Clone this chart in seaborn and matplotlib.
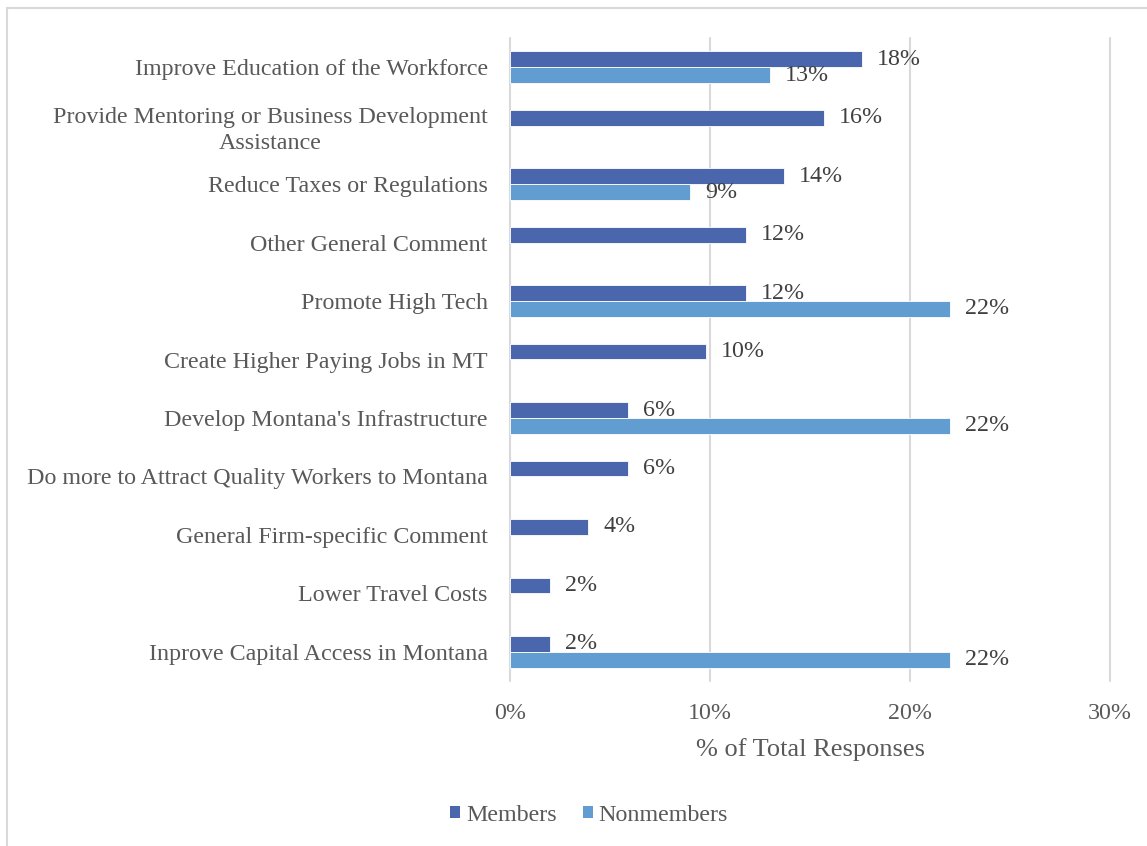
import matplotlib
matplotlib.use("Agg")
import matplotlib.pyplot as plt
import seaborn as sns
import pandas as pd
from matplotlib.patches import Rectangle, Patch

categories = [
    "Improve Education of the Workforce",
    "Provide Mentoring or Business Development\nAssistance",
    "Reduce Taxes or Regulations",
    "Other General Comment",
    "Promote High Tech",
    "Create Higher Paying Jobs in MT",
    "Develop Montana's Infrastructure",
    "Do more to Attract Quality Workers to Montana",
    "General Firm-specific Comment",
    "Lower Travel Costs",
    "Inprove Capital Access in Montana",
]
members = [17.6, 15.7, 13.7, 11.8, 11.8, 9.8, 5.9, 5.9, 3.9, 2.0, 2.0]
nonmembers = [13.0, 0, 9.0, 0, 22.0, 0, 22.0, 0, 0, 0, 22.0]
series = ["Members", "Nonmembers"]
colors = ["#4a66ac", "#629dd1"]
xticks = [0, 10, 20, 30]
xtick_labels = ["0%", "10%", "20%", "30%"]

df = pd.DataFrame({
    "Category": categories * 2,
    "Series": [series[0]] * len(categories) + [series[1]] * len(categories),
    "Value": members + nonmembers,
})

sns.set_theme(style="white")
plt.rcParams["font.family"] = ["Liberation Serif", "DejaVu Serif"]

fig = plt.figure(figsize=(11.47, 8.46), dpi=100)
ax = fig.add_axes([510 / 1147, 1 - 681 / 846, 600 / 1147, (681 - 38) / 846])

sns.barplot(data=df, y="Category", x="Value", hue="Series", order=categories,
            hue_order=series, palette=colors, width=0.54, orient="h",
            edgecolor="white", linewidth=0.6, saturation=1, ax=ax, legend=False)

for p in ax.patches:
    if p.get_width() == 0:
        p.set_edgecolor("none")
        p.set_linewidth(0)

text_col = "#595959"
label_col = "#404040"
fs = 17.3

for cont, vals in zip(ax.containers, [members, nonmembers]):
    labels = [f"{round(v):.0f}%" if v > 0 else "" for v in vals]
    ax.bar_label(cont, labels=labels, padding=11, fontsize=fs, color=label_col)

ax.set_xlim(0, 30)
ax.set_xticks(xticks)
ax.set_xticklabels(xtick_labels, fontsize=fs, color=text_col)
ax.tick_params(axis="x", length=0, pad=16)
ax.tick_params(axis="y", length=0, pad=16, labelsize=fs, labelcolor=text_col)
for lab in ax.get_yticklabels():
    lab.set_multialignment("center")
    lab.set_linespacing(1.3)
ax.set_ylabel("")
ax.set_xlabel("% of Total Responses", fontsize=19, color=text_col, labelpad=10)
ax.grid(axis="x", color="#d9d9d9", linewidth=1.5)
ax.grid(axis="y", visible=False)
ax.set_axisbelow(True)
for gl in ax.xaxis.get_gridlines():
    gl.set_clip_on(False)
for s in ax.spines.values():
    s.set_visible(False)

handles = [Patch(facecolor=c, edgecolor="none") for c in colors]
fig.legend(handles, series, loc="center", bbox_to_anchor=(589 / 1147, 1 - 815 / 846),
           ncol=2, frameon=False, fontsize=fs, labelcolor=text_col,
           handlelength=0.42, handleheight=0.42, handletextpad=0.22, columnspacing=1.1)

fig.patches.append(Rectangle((7 / 1147, -0.2), 1.3, 1.2 - 8 / 846, transform=fig.transFigure,
                             fill=False, edgecolor="#d9d9d9", linewidth=1.5, clip_on=False))

fig.savefig("out.png", dpi=100, facecolor="white")
